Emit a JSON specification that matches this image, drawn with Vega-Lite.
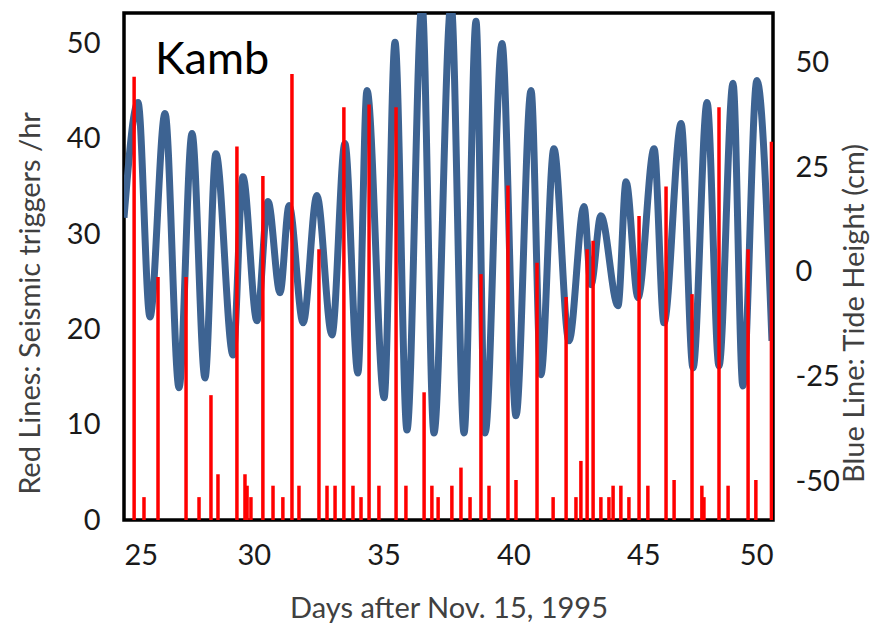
{
  "$schema": "https://vega.github.io/schema/vega-lite/v6.json",
  "autosize": "none",
  "width": 649,
  "height": 507,
  "padding": {"left": 124, "top": 13, "right": 104, "bottom": 110},
  "background": "white",
  "config": {
    "view": {"stroke": "black", "strokeWidth": 3.5},
    "font": "Lato",
    "axis": {"grid": false, "ticks": false, "domain": false, "labelFontSize": 29, "titleFontSize": 29, "labelColor": "#1a1a1a", "titleColor": "#404040", "titleFontWeight": "normal", "labelFont": "Lato", "titleFont": "Lato"}
  },
  "datasets": {
    "tide": [
      {"day": 25.0, "tide": 12.9}, {"day": 25.54, "tide": 40.4}, {"day": 26.0, "tide": -10.8}, {"day": 26.58, "tide": 37.8},
      {"day": 27.12, "tide": -27.7}, {"day": 27.62, "tide": 33.0}, {"day": 28.12, "tide": -25.4}, {"day": 28.54, "tide": 28.2},
      {"day": 29.2, "tide": -19.9}, {"day": 29.58, "tide": 22.7}, {"day": 30.12, "tide": -11.7}, {"day": 30.55, "tide": 16.8},
      {"day": 31.01, "tide": -5.0}, {"day": 31.36, "tide": 15.8}, {"day": 31.9, "tide": -12.2}, {"day": 32.43, "tide": 18.2},
      {"day": 33.01, "tide": -15.1}, {"day": 33.51, "tide": 30.6}, {"day": 34.01, "tide": -24.2}, {"day": 34.36, "tide": 43.3},
      {"day": 35.02, "tide": -30.1}, {"day": 35.44, "tide": 54.8}, {"day": 35.9, "tide": -37.8}, {"day": 36.48, "tide": 64.0},
      {"day": 36.94, "tide": -38.5}, {"day": 37.6, "tide": 64.0}, {"day": 38.1, "tide": -38.5}, {"day": 38.56, "tide": 59.8},
      {"day": 38.91, "tide": -38.5}, {"day": 39.56, "tide": 54.5}, {"day": 40.1, "tide": -34.4}, {"day": 40.68, "tide": 43.3},
      {"day": 41.06, "tide": -24.6}, {"day": 41.56, "tide": 29.4}, {"day": 42.14, "tide": -16.5}, {"day": 42.72, "tide": 15.6},
      {"day": 42.99, "tide": -3.1}, {"day": 43.37, "tide": 13.4}, {"day": 44.03, "tide": -8.1}, {"day": 44.34, "tide": 21.5},
      {"day": 44.8, "tide": -6.2}, {"day": 45.42, "tide": 29.4}, {"day": 45.8, "tide": -12.2}, {"day": 46.46, "tide": 35.4},
      {"day": 46.92, "tide": -23.0}, {"day": 47.46, "tide": 40.4}, {"day": 47.92, "tide": -22.5}, {"day": 48.46, "tide": 45.0},
      {"day": 48.84, "tide": -27.3}, {"day": 49.38, "tide": 45.7}, {"day": 49.96, "tide": -16.5}
    ],
    "triggers": [
      {"day": 25.39, "rate": 46.5}, {"day": 25.77, "rate": 2.4}, {"day": 26.31, "rate": 25.5}, {"day": 27.39, "rate": 25.5},
      {"day": 27.89, "rate": 2.4}, {"day": 28.35, "rate": 13.1}, {"day": 28.62, "rate": 4.8}, {"day": 29.35, "rate": 39.2},
      {"day": 29.66, "rate": 4.8}, {"day": 29.74, "rate": 3.6}, {"day": 29.89, "rate": 2.4}, {"day": 30.35, "rate": 36.1},
      {"day": 30.74, "rate": 3.6}, {"day": 31.12, "rate": 2.4}, {"day": 31.47, "rate": 46.8}, {"day": 31.74, "rate": 3.6},
      {"day": 32.51, "rate": 28.4}, {"day": 32.82, "rate": 3.6}, {"day": 33.13, "rate": 3.6}, {"day": 33.47, "rate": 43.3},
      {"day": 33.82, "rate": 3.6}, {"day": 34.13, "rate": 2.4}, {"day": 34.44, "rate": 43.6}, {"day": 34.82, "rate": 3.6},
      {"day": 35.48, "rate": 43.3}, {"day": 35.86, "rate": 3.6}, {"day": 36.56, "rate": 13.4}, {"day": 36.86, "rate": 3.6},
      {"day": 37.1, "rate": 2.4}, {"day": 37.63, "rate": 3.6}, {"day": 37.98, "rate": 5.5}, {"day": 38.33, "rate": 2.4},
      {"day": 38.75, "rate": 25.8}, {"day": 39.06, "rate": 3.6}, {"day": 39.79, "rate": 35.1}, {"day": 40.1, "rate": 4.2},
      {"day": 40.91, "rate": 27.0}, {"day": 41.53, "rate": 2.4}, {"day": 42.03, "rate": 23.4}, {"day": 42.41, "rate": 2.4},
      {"day": 42.6, "rate": 6.2}, {"day": 42.84, "rate": 28.4}, {"day": 43.07, "rate": 29.3}, {"day": 43.37, "rate": 2.4},
      {"day": 43.68, "rate": 2.4}, {"day": 43.84, "rate": 3.6}, {"day": 44.14, "rate": 3.6}, {"day": 44.45, "rate": 2.4},
      {"day": 44.84, "rate": 31.9}, {"day": 45.18, "rate": 3.6}, {"day": 45.88, "rate": 35.0}, {"day": 46.19, "rate": 4.2},
      {"day": 46.88, "rate": 23.7}, {"day": 47.26, "rate": 3.6}, {"day": 47.34, "rate": 2.4}, {"day": 47.92, "rate": 43.3},
      {"day": 48.27, "rate": 3.6}, {"day": 49.04, "rate": 28.4}, {"day": 49.34, "rate": 4.2}, {"day": 49.94, "rate": 39.7}
    ]
  },
  "layer": [
    {
      "data": {"name": "tide"},
      "mark": {"type": "line", "interpolate": "monotone", "color": "#3d6392", "strokeWidth": 7, "clip": true},
      "encoding": {
        "x": {"field": "day", "type": "quantitative", "scale": {"domain": [25, 50], "nice": false, "zero": false},
          "axis": {"values": [25, 30, 35, 40, 45, 50], "title": "Days after Nov. 15, 1995", "labelPadding": 21, "titlePadding": 24}},
        "y": {"field": "tide", "type": "quantitative", "scale": {"domain": [-59.3, 61.8], "nice": false, "zero": false},
          "axis": {"orient": "right", "values": [-50, -25, 0, 25, 50], "labelExpr": "toString(datum.value)", "title": "Blue Line: Tide Height (cm)", "titleAngle": -90, "titleY": 300, "labelPadding": 22, "titlePadding": 30}}
      }
    },
    {
      "layer": [
        {
          "data": {"name": "triggers"},
          "mark": {"type": "rule", "color": "#ff0000", "strokeWidth": 3.5, "clip": true},
          "encoding": {
            "x": {"field": "day", "type": "quantitative", "scale": {"domain": [25, 50], "nice": false, "zero": false}},
            "y": {"field": "rate", "type": "quantitative", "scale": {"domain": [0, 53.2], "nice": false},
              "axis": {"orient": "left", "values": [0, 10, 20, 30, 40, 50], "title": "Red Lines: Seismic triggers /hr", "titleY": 290, "labelPadding": 24, "titlePadding": 21}},
            "y2": {"datum": 0}
          }
        },
        {
          "data": {"values": [{"label": "Kamb", "day": 26.19, "rate": 46.8}]},
          "mark": {"type": "text", "align": "left", "baseline": "alphabetic", "fontSize": 45, "font": "Lato", "color": "black"},
          "encoding": {
            "text": {"field": "label"},
            "x": {"field": "day", "type": "quantitative"},
            "y": {"field": "rate", "type": "quantitative"}
          }
        }
      ]
    }
  ],
  "resolve": {"scale": {"y": "independent"}}
}
